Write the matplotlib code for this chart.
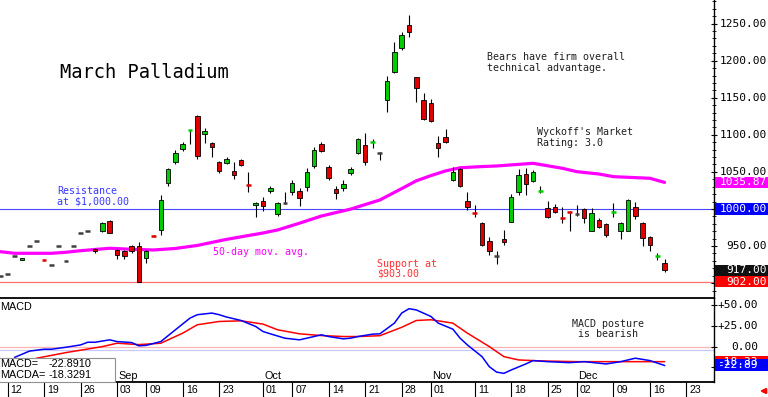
import numpy as np
import pandas as pd
import matplotlib
matplotlib.use("Agg")
import matplotlib.pyplot as plt
from matplotlib.patches import Rectangle
from matplotlib.transforms import blended_transform_factory, offset_copy

# trading calendar, Aug 9 2019 onwards
holidays = ["2019-09-02", "2019-11-28", "2019-12-25"]
days = pd.bdate_range("2019-08-09", "2019-12-31")
days = days[~days.isin(pd.to_datetime(holidays))]

# daily OHLC, Aug 9 .. Dec 18
opens = [910, 912.5, 937, 931, 950, 957, 931.5, 925, 950.5, 930,
         950.5, 967.5, 970, 946, 970, 984, 944.5, 943, 950, 950,
         934, 964, 972, 1035, 1063, 1081, 1105.5, 1125.5, 1101, 1089,
         1063.5, 1062, 1051, 1066, 1033, 1005, 1010.5, 1024, 993, 1008.5,
         1023, 1024.5, 1029, 1058.5, 1087.5, 1056, 1027.5, 1028, 1048, 1076,
         1086, 1090, 1076, 1147, 1185, 1217, 1248, 1177.5, 1147, 1142.5,
         1088.5, 1097.5, 1039, 1053.5, 1011, 995.5, 980.5, 957, 936, 959.5,
         983, 1023.5, 1047, 1038, 1023.5, 1001, 1003, 988.5, 997, 993.5,
         999.5, 970.5, 985, 979.5, 995, 970.5, 970.5, 1003, 981.5, 962.5,
         936, 927.5]
highs = [910, 912.5, 937, 934.5, 950, 957, 931.5, 925, 950.5, 930,
         950.5, 967.5, 970, 947.5, 982, 985, 946, 945, 952, 955,
         944, 964.5, 1019, 1055, 1080, 1090, 1107, 1127, 1109, 1091,
         1065, 1070, 1063, 1068, 1050, 1009, 1016.5, 1031, 1010, 1023,
         1039, 1028, 1055, 1084, 1090, 1059, 1031, 1039, 1057, 1096,
         1103, 1094, 1077, 1179.5, 1225.5, 1238.5, 1261.5, 1178.5, 1157, 1149,
         1098.5, 1107.5, 1057, 1055, 1023.5, 1005.5, 982, 962, 943.5, 971.5,
         1020, 1053.5, 1055, 1052, 1031, 1011, 1006.5, 1002.5, 997.5, 1006,
         1001.5, 1001.5, 987.5, 980.5, 1008.5, 983, 1013.5, 1009, 983, 963.5,
         940, 932]
lows = [910, 912.5, 937, 930.5, 950, 957, 930.5, 925, 950.5, 930,
        950.5, 967.5, 970, 940, 969, 967, 932.5, 933, 941, 901,
        927, 962.5, 965, 1031, 1060, 1078, 1088, 1068, 1089, 1070,
        1048, 1060, 1040, 1058, 1023, 989, 997, 1021, 991, 1007,
        1019, 1004, 1024.5, 1055.5, 1076.5, 1039, 1013, 1024.5, 1046, 1074,
        1059, 1082, 1066, 1130.5, 1184, 1215, 1231.5, 1144, 1120, 1117,
        1069.5, 1089, 1038, 1029, 998.5, 989.5, 950, 938, 925.5, 951.5,
        982, 1019, 1019, 1037, 1021, 987.5, 994, 981.5, 970.5, 991,
        980.5, 970, 974, 962.5, 989.5, 959.5, 970, 986, 950, 943.5,
        931, 915.5]
closes = [910, 912.5, 937, 934, 950, 957, 930.5, 925, 950.5, 930,
          950.5, 967.5, 970, 943, 981, 968, 938, 936, 943, 902,
          943, 963, 1012, 1054, 1075.5, 1088, 1106.5, 1071.5, 1105, 1083.5,
          1051.5, 1067.5, 1046, 1059.5, 1032, 1008, 1004, 1028, 1008.5, 1008.5,
          1035.5, 1014.5, 1050.5, 1079.5, 1078.5, 1042, 1021, 1033.5, 1054, 1094,
          1064, 1091, 1076, 1172.5, 1211.5, 1234.5, 1238.5, 1163.5, 1121.5, 1119,
          1082, 1090, 1050.5, 1031, 1002.5, 994.5, 951.5, 943.5, 936, 955,
          1016, 1046, 1033.5, 1050.5, 1024.5, 989, 996.5, 987.5, 996, 993.5,
          987.5, 994, 975.5, 965, 996, 981.5, 1012, 991, 961.5, 951.5,
          937.5, 917]

# 50-day moving average (trading-day index, value)
ma_day = [0, 2, 7, 9, 11, 15, 18, 21, 24, 27, 31, 36, 38, 41, 44, 48, 52,
          55, 57, 59, 61, 63, 66, 68, 73, 77, 79, 82, 84, 89, 91]
ma_val = [942.4, 940.2, 940.2, 941.6, 943.7, 947, 945.6, 944.7, 946.7, 950.8,
          959, 967.6, 971.7, 980.8, 990.5, 999.8, 1012.1, 1027.5, 1038, 1045,
          1051.3, 1055.6, 1057.2, 1058, 1061.6, 1054.9, 1050.3, 1047.2, 1043.6,
          1041.4, 1035.87]

# MACD (blue) and MACDA (red)
macd_day = [2, 4, 6, 7, 9, 11, 12, 13, 15, 16, 18, 19, 20, 22, 24, 26, 27, 29,
            30, 31, 33, 35, 36, 37, 39, 41, 42, 44, 45, 47, 48, 49, 51, 52, 54,
            55, 56, 57, 59, 60, 62, 63, 64, 66, 67, 68, 69, 70, 72, 73, 75, 78,
            80, 83, 85, 87, 89, 91]
macd_val = [-13, -5.5, -3.2, -3.2, -0.8, 2, 5.3, 5.3, 8.2, 6.1, 4.9, 0.9, 1.5,
            6.1, 20.4, 34.6, 38.7, 40.7, 38.7, 35.9, 31.7, 24.4, 18.3, 15.5,
            10.2, 8.2, 10.2, 14.3, 12.2, 9.4, 10.2, 12.2, 15.1, 15.5, 28.5,
            40.7, 46, 44.5, 36.6, 28.5, 21.2, 10.2, 2, -12.2, -24.4, -31,
            -32.5, -28.4, -21.1, -17, -18.3, -19.5, -18.3, -21.1, -18.3, -14.1,
            -17, -22.89]
macda_day = [5, 9, 14, 16, 19, 22, 25, 27, 30, 33, 36, 38, 41, 44, 47, 49, 52,
             55, 57, 59, 62, 64, 67, 69, 71, 74, 79, 84, 89, 91]
macda_val = [-14.1, -7.3, 0, 4.1, 2.4, 4.1, 16.3, 26.5, 30.5, 31.3, 27.3, 20.4,
             15.5, 13.4, 12.2, 12.2, 13.2, 23.4, 31.7, 32.6, 28.5, 16.3, 0,
             -12.2, -16.2, -17.4, -18.3, -18.3, -18.3, -18.33]
macd_last = -22.8910
macda_last = -18.3291

resistance = 1000.0
support = 902.0
price_ticks = [950, 1050, 1100, 1150, 1200, 1250]
macd_ticks = [50, 25, 0]
macd_tick_labels = ["+50.00", "+25.00", "0.00"]

tick_days = ["2019-08-12", "2019-08-19", "2019-08-26", "2019-09-03", "2019-09-09",
             "2019-09-16", "2019-09-23", "2019-10-01", "2019-10-07", "2019-10-14",
             "2019-10-21", "2019-10-28", "2019-11-01", "2019-11-11", "2019-11-18",
             "2019-11-25", "2019-12-02", "2019-12-09", "2019-12-16", "2019-12-23"]
tick_labels = ["12", "19", "26", "03", "09", "16", "23", "01", "07", "14",
               "21", "28", "01", "11", "18", "25", "02", "09", "16", "23"]
month_days = ["2019-09-03", "2019-10-01", "2019-11-01", "2019-12-02"]
month_labels = ["Sep", "Oct", "Nov", "Dec"]

MONO = "DejaVu Sans Mono"
SANS = "Liberation Sans"
UP, DOWN, FLAT = "#00cc00", "#e00000", "#404040"

W, H = 768, 397
fig = plt.figure(figsize=(W / 100, H / 100), dpi=100)


def fax(l, t, r, b):
    return fig.add_axes([l / W, 1 - b / H, (r - l) / W, (b - t) / H])


ax = fax(0, 0, 714, 298)
axm = fax(0, 298, 714, 382)
axd = fax(0, 382, 714, 397)
ov = fig.add_axes([0, 0, 1, 1], zorder=20)
ov.set_xlim(0, W)
ov.set_ylim(H, 0)
ov.axis("off")
ov.patch.set_alpha(0)

xlim = (-0.03, 97.78)
for a in (ax, axm, axd):
    a.set_xlim(*xlim)
    a.set_xticks([])
    a.spines["left"].set_visible(False)
    a.spines["top"].set_visible(False)
    a.patch.set_alpha(0)
ax.set_ylim(879.9, 1281.9)
axm.set_ylim(-43, 59)
axd.set_ylim(0, 1)
for a in (ax, axm):
    a.spines["right"].set_linewidth(1.0)
    a.spines["bottom"].set_linewidth(1.3)
    a.yaxis.tick_right()
    a.tick_params(axis="y", direction="inout", length=5, width=0.8,
                  labelright=False, labelleft=False)
axd.spines["right"].set_visible(False)
axd.spines["bottom"].set_visible(False)
axd.set_yticks([])

ax.set_yticks(np.arange(900, 1300, 50))
ax.set_yticks(np.arange(890, 1281, 10), minor=True)
ax.tick_params(axis="y", which="minor", direction="inout", length=2.5, width=0.6)
axm.set_yticks([-25, 0, 25, 50])

# reference lines
ax.axhline(resistance, color="#4848ff", lw=0.8, zorder=1)
ax.axhline(support, color="#ff7070", lw=0.9, zorder=1)

# moving average
ax.plot(ma_day, ma_val, color="#ff00ff", lw=2.3, zorder=1.5,
        solid_capstyle="round", solid_joinstyle="round")

# candles
x = np.arange(len(opens))
o, hi, lo, c = map(np.asarray, (opens, highs, lows, closes))
ax.vlines(x, lo, hi, color="black", lw=0.8, zorder=2)
for xi, oi, ci in zip(x, o, c):
    col = UP if ci > oi else (DOWN if ci < oi else FLAT)
    if abs(ci - oi) >= 2:
        ax.bar(xi, abs(ci - oi), bottom=min(oi, ci), width=0.62, color=col,
               edgecolor="black", linewidth=0.6, zorder=3)
    else:
        ax.hlines((oi + ci) / 2, xi - 0.32, xi + 0.32, color=col, lw=1.8,
                  zorder=3)

# MACD panel
axm.axhline(0, color="#ffb4b4", lw=0.9, zorder=1)
axm.axhline(-4, color="#c8c8ff", lw=0.9, zorder=1)
axm.plot(macda_day, macda_val, color="#ff0000", lw=1.1, zorder=2,
         solid_joinstyle="round")
axm.plot(macd_day, macd_val, color="#0000ff", lw=1.1, zorder=3,
         solid_joinstyle="round")

# right axis labels
tr_main = blended_transform_factory(ov.transData, ax.transData)
tr_macd = blended_transform_factory(ov.transData, axm.transData)
for v in price_ticks:
    ov.text(767, v, f"{v:.2f}", transform=tr_main, ha="right", va="center",
            fontsize=8, family=MONO, clip_on=False)
for v, s in zip(macd_ticks, macd_tick_labels):
    ov.text(758, v, s, transform=tr_macd, ha="right", va="center",
            fontsize=8, family=MONO, clip_on=False)


def value_box(tr, v, half, color, text, right):
    ov.add_patch(Rectangle((715, v - half), 53, 2 * half, transform=tr,
                           facecolor=color, edgecolor="none", clip_on=False))
    ov.text(right, v, text, transform=tr, ha="right", va="center",
            color="white", fontsize=8, family=MONO, clip_on=False)


value_box(tr_main, ma_val[-1], 7.5, "#ff00ff", f"{ma_val[-1]:.2f}", 767)
value_box(tr_main, resistance, 8.0, "#0000ff", f"{resistance:.2f}", 767)
value_box(tr_main, closes[-1], 6.8, "#111111", f"{closes[-1]:.2f}", 767)
value_box(tr_main, support, 7.5, "#ff0000", f"{support:.2f}", 767)
value_box(tr_macd, macda_last, 7.3, "#ff0000", f"{macda_last:.2f}", 758)
value_box(tr_macd, macd_last, 7.3, "#0000ff", f"{macd_last:.2f}", 758)

# date strip
tpos = days.get_indexer(pd.to_datetime(tick_days))
axd.vlines(tpos, 0, 1, color="black", lw=0.8)
dtr = offset_copy(axd.transData, fig=fig, x=3, y=0, units="dots")
for p, s in zip(tpos, tick_labels):
    axd.text(p, 0.25, s, transform=dtr, ha="left", va="baseline",
             fontsize=7.6, family=SANS, clip_on=False)
mpos = days.get_indexer(pd.to_datetime(month_days))
mtr = offset_copy(blended_transform_factory(axm.transData, axm.transAxes),
                  fig=fig, x=1, y=3, units="dots")
for p, s in zip(mpos, month_labels):
    axm.text(p, 0, s, transform=mtr, ha="left", va="baseline",
             fontsize=7.8, family=SANS)

# annotations (pixel positions)
ov.text(60, 78, "March Palladium", fontsize=13.5, family=MONO, va="baseline")
ov.text(57, 194, "Resistance", color="#3838ff", fontsize=7.2, family=MONO,
        va="baseline")
ov.text(57, 204, "at $1,000.00", color="#3838ff", fontsize=7.2, family=MONO,
        va="baseline")
ov.text(213, 255, "50-day mov. avg.", color="#ff00ff", fontsize=7.2,
        family=MONO, va="baseline")
ov.text(377, 267, "Support at", color="#ff3030", fontsize=7.2, family=MONO,
        va="baseline")
ov.text(377, 277, "$903.00", color="#ff3030", fontsize=7.2, family=MONO,
        va="baseline")
ov.text(487, 60, "Bears have firm overall", color="#202020", fontsize=7.2,
        family=MONO, va="baseline")
ov.text(487, 71, "technical advantage.", color="#202020", fontsize=7.2,
        family=MONO, va="baseline")
ov.text(537, 135, "Wyckoff's Market", color="#202020", fontsize=7.2,
        family=MONO, va="baseline")
ov.text(537, 146, "Rating: 3.0", color="#202020", fontsize=7.2, family=MONO,
        va="baseline")
ov.text(572, 327, "MACD posture", color="#202020", fontsize=7.2, family=MONO,
        va="baseline")
ov.text(572, 337, " is bearish", color="#202020", fontsize=7.2, family=MONO,
        va="baseline")
ov.text(0, 310, "MACD", fontsize=7.8, family=SANS, va="baseline")

ov.add_patch(Rectangle((-1, 358), 116, 24, facecolor="white",
                       edgecolor="#909090", lw=0.8))
ov.text(0, 367, "MACD=", fontsize=7.8, family=SANS, va="baseline")
ov.text(49, 367, f"{macd_last:.4f}", fontsize=7.8, family=SANS, va="baseline")
ov.text(0, 378, "MACDA=", fontsize=7.8, family=SANS, va="baseline")
ov.text(49, 378, f"{macda_last:.4f}", fontsize=7.8, family=SANS,
        va="baseline")

ov.annotate("", xy=(757, 391), xytext=(768, 391),
            arrowprops=dict(arrowstyle="-|>", color="red", lw=1.6,
                            mutation_scale=7))

fig.savefig("out.png", dpi=100)
